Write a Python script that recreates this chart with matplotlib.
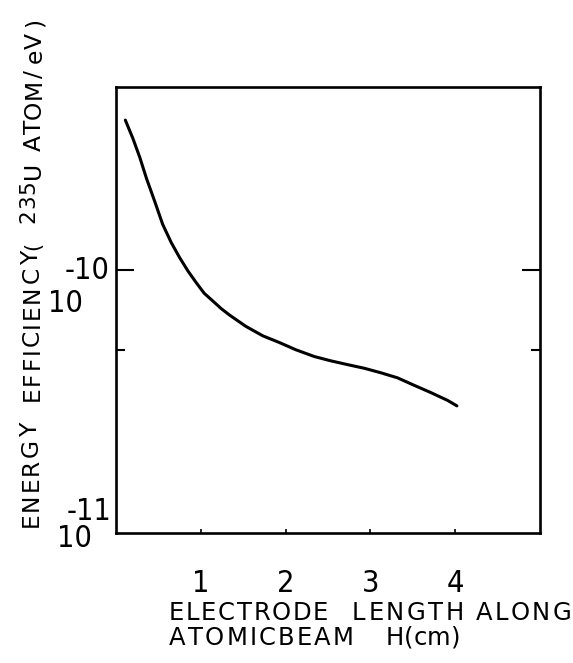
import os
import matplotlib
matplotlib.use("Agg")
import matplotlib.pyplot as plt
from matplotlib.ticker import FixedLocator, NullFormatter
from matplotlib import font_manager
from matplotlib.font_manager import FontProperties
from matplotlib.ft2font import FT2Font

# Energy efficiency vs electrode length along the atomic beam
length_cm = [0.11, 0.20, 0.28, 0.36, 0.46, 0.55, 0.65, 0.75, 0.85, 0.95,
             1.04, 1.14, 1.24, 1.34, 1.44, 1.53, 1.73, 1.93, 2.12, 2.34,
             2.53, 2.73, 2.93, 3.12, 3.32, 3.51, 3.71, 3.91, 4.02]
efficiency = [3.74e-10, 3.18e-10, 2.70e-10, 2.24e-10, 1.82e-10, 1.50e-10,
              1.28e-10, 1.12e-10, 9.94e-11, 8.95e-11, 8.19e-11, 7.66e-11,
              7.16e-11, 6.76e-11, 6.42e-11, 6.13e-11, 5.64e-11, 5.31e-11,
              4.99e-11, 4.70e-11, 4.53e-11, 4.38e-11, 4.24e-11, 4.08e-11,
              3.90e-11, 3.66e-11, 3.43e-11, 3.20e-11, 3.05e-11]

x_ticks = [1, 2, 3, 4]
x_tick_labels = ["1", "2", "3", "4"]

W, H = 573, 663
DPI = 100
fig = plt.figure(figsize=(W / DPI, H / DPI), dpi=DPI)
fig.patch.set_facecolor("white")


def narrow_font(size):
    wanted = ["LiberationSansNarrow-Regular", "DejaVuSansCondensed.",
              "RobotoCondensed-Regular", "OpenSans_Condensed-Regular",
              "OpenSansCondensed-Regular", "NotoSans-Condensed."]
    files = [f.fname for f in font_manager.fontManager.ttflist]
    for key in wanted:
        for path in files:
            if key in os.path.basename(path):
                return FontProperties(fname=path, size=size)
    return FontProperties(family="DejaVu Sans", size=size)


digits = narrow_font(22)

left, right, top, bottom = 116, 540, 87, 533
ax = fig.add_axes([left / W, 1 - bottom / H, (right - left) / W, (bottom - top) / H])

ax.plot(length_cm, efficiency, color="black", lw=2.2,
        solid_capstyle="round", solid_joinstyle="round")

ax.set_yscale("log")
ax.set_xlim(0, 5)
ax.set_ylim(1e-11, 5e-10)

for s in ax.spines.values():
    s.set_linewidth(1.9)

ax.set_xticks(x_ticks)
ax.set_xticklabels(x_tick_labels, fontproperties=digits)
ax.tick_params(axis="x", direction="in", length=3, width=1.2, pad=26)

ax.yaxis.set_major_locator(FixedLocator([1e-10]))
ax.yaxis.set_minor_locator(FixedLocator([5e-11]))
ax.yaxis.set_major_formatter(NullFormatter())
ax.yaxis.set_minor_formatter(NullFormatter())
ax.tick_params(axis="y", which="major", direction="in", length=13, width=1.5,
               left=True, right=True)
ax.tick_params(axis="y", which="minor", direction="in", length=6.5, width=1.5,
               left=True, right=True)


# y tick labels written as base and exponent
def ylab(txt, yval, dx_px, dy_px):
    ax.annotate(txt, xy=(0, yval), xycoords=("axes fraction", "data"),
                xytext=(dx_px * 0.72, dy_px * 0.72), textcoords="offset points",
                ha="right", va="center", fontproperties=digits)


ylab("-10", 1e-10, -6, 0)
ylab("10", 1e-10, -33, -33)
ylab("-11", 1e-11, -5, 21)
ylab("10", 1e-11, -24, -6)


def fx(px):
    return px / W


def fy(py):
    return 1 - py / H


title_face = FT2Font(font_manager.findfont(FontProperties(family="DejaVu Sans")))


def advance(ch, size):
    """Horizontal advance of one glyph, in pixels."""
    title_face.set_size(size, DPI)
    g = title_face.load_char(ord(ch))
    return g.linearHoriAdvance / 65536.0


def spaced_word(word, start, end, base, size, vertical=False):
    """Write a word letter by letter, tracked out to run from start to end (px)."""
    widths = [advance(c, size) for c in word]
    n = len(word)
    span = abs(end - start)
    gap = max((span - sum(widths)) / (n - 1), 0.0) if n > 1 else 0.0
    pos = 0.0
    for ch, w in zip(word, widths):
        if vertical:
            fig.text(fx(base), fy(start - pos), ch, rotation=90,
                     rotation_mode="anchor", ha="left", va="baseline",
                     fontsize=size, family="DejaVu Sans")
        else:
            fig.text(fx(start + pos), fy(base), ch, ha="left", va="baseline",
                     fontsize=size, family="DejaVu Sans")
        pos += w + gap


# vertical axis title: (word, lower end, upper end, baseline column, size)
ytitle = [
    ("ENERGY", 527, 423, 37.5, 16.8),
    ("EFFICIENCY", 401, 251, 38.5, 16.8),
    ("(", 250, 237, 39.0, 15.0),
    ("235", 223, 180, 34.5, 15.5),
    ("U", 179, 163, 40.5, 16.8),
    ("ATOM/", 151, 70, 41.0, 16.8),
    ("eV", 63, 35, 41.5, 16.8),
    (")", 27, 17, 41.5, 16.8),
]
for word, y0, y1, xb, size in ytitle:
    spaced_word(word, y0, y1, xb, size, vertical=True)

# horizontal axis title, two lines: (word, left end, right end, baseline)
xtitle = [
    ("ELECTRODE", 169, 328, 620),
    ("LENGTH", 352, 464, 620),
    ("ALONG", 476, 571, 620),
    ("ATOMICBEAM", 169, 354, 645),
    ("H(cm)", 386, 455, 645),
]
for word, x0, x1, yb in xtitle:
    spaced_word(word, x0, x1, yb, 17.5)

fig.savefig("out.png", dpi=DPI, facecolor="white")
